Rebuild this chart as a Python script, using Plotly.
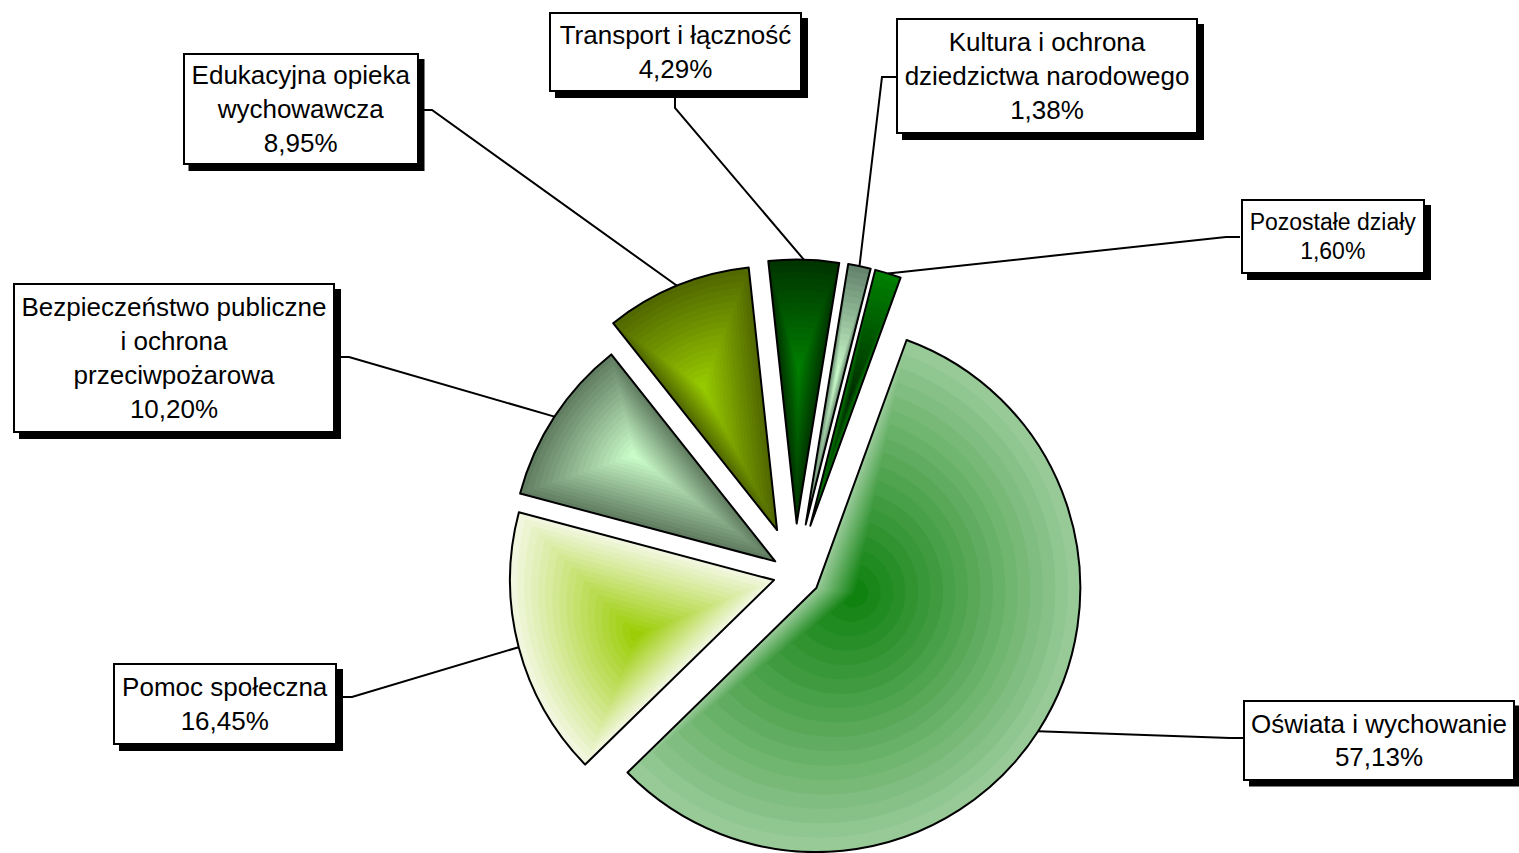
import math
import plotly.graph_objects as go

# ---------------- data ----------------
categories = [
    "Oświata i wychowanie",
    "Pomoc społeczna",
    "Bezpieczeństwo publiczne i ochrona przeciwpożarowa",
    "Edukacyjna opieka wychowawcza",
    "Transport i łączność",
    "Kultura i ochrona dziedzictwa narodowego",
    "Pozostałe działy",
]
values = [57.13, 16.45, 10.20, 8.95, 4.29, 1.38, 1.60]
label_names = [
    "Oświata i wychowanie",
    "Pomoc społeczna",
    "Bezpieczeństwo publiczne<br>i ochrona<br>przeciwpożarowa",
    "Edukacyjna opieka<br>wychowawcza",
    "Transport i łączność",
    "Kultura i ochrona<br>dziedzictwa narodowego",
    "Pozostałe działy",
]

# ---------------- style / layout ----------------
W, H = 1519, 853
# gradient: colour at the slice's gradient centre, colour at its border
center_colors = ["#0c800c", "#99cc00", "#ccffcc", "#99cc00", "#008000", "#ccffcc", "#002c00"]
edge_colors = ["#9ccc9c", "#f4f8e4", "#5f7a5f", "#506600", "#003300", "#62806a", "#008000"]
# gradient centre inside each slice: (fraction of the slice's angle, fraction of radius)
grad_center = [(0.376, 0.15), (0.38, 0.56), (0.6, 0.67), (0.34, 0.61),
               (0.44, 0.58), (0.5, 0.57), (0.5, 0.5)]
N_LAYERS = 18
explode_px = [25, 22, 24, 48, 51, 51, 51]
CX, CY = 795.3, 574.5
R = 264
ROT = 20
FONT = "Liberation Sans, Arial, sans-serif"
font_sizes = [26, 26, 26, 26, 26, 26, 23]
SHADOW = 6

# label boxes: centre x, centre y, width, height (px)
label_boxes = [
    (1379, 740, 272, 81),
    (225, 704, 224, 82),
    (174, 358, 322, 150),
    (300.5, 109, 236, 112),
    (675.5, 52, 253, 80),
    (1047, 76, 302, 116),
    (1333, 236.5, 184, 75),
]
# leader line: point on box edge, end of short stub
leader_attach = [
    ((1243, 738), (1230, 738)),
    ((337, 697), (352, 697)),
    ((335, 357), (349, 357)),
    ((418, 110), (432, 110)),
    ((675, 92), (675, 108)),
    ((896, 77), (882, 77)),
    ((1240, 237), (1226, 237)),
]


def hex2rgb(h):
    h = h.lstrip("#")
    return tuple(int(h[i:i + 2], 16) for i in (0, 2, 4))


def mix(c0, c1, t):
    a, b = hex2rgb(c0), hex2rgb(c1)
    return "rgb(%d,%d,%d)" % tuple(round(a[i] + (b[i] - a[i]) * t) for i in range(3))


total = sum(values)
n = len(values)
starts, mids, spans = [], [], []
cum = 0.0
for v in values:
    starts.append(ROT + 360.0 * cum / total)
    spans.append(360.0 * v / total)
    mids.append(math.radians(ROT + 360.0 * (cum + v / 2) / total))
    cum += v

fig = go.Figure()
TRANSP = "rgba(0,0,0,0)"


def add_slice(k, ax, ay, rad, fill, line_col, line_w):
    x0 = max(0.0, (ax - rad) / W)
    x1 = min(1.0, (ax + rad) / W)
    y0 = max(0.0, 1 - (ay + rad) / H)
    y1 = min(1.0, 1 - (ay - rad) / H)
    fig.add_trace(go.Pie(
        values=values,
        labels=categories,
        sort=False,
        direction="clockwise",
        rotation=ROT,
        domain=dict(x=[x0, x1], y=[y0, y1]),
        marker=dict(
            colors=[fill if i == k else TRANSP for i in range(n)],
            line=dict(
                color=[line_col if i == k else TRANSP for i in range(n)],
                width=[line_w if i == k else 0 for i in range(n)],
            ),
        ),
        textinfo="none",
        hoverinfo="skip",
        showlegend=False,
    ))


for k in range(n):
    dx, dy = math.sin(mids[k]), -math.cos(mids[k])
    ax = CX + explode_px[k] * dx
    ay = CY + explode_px[k] * dy
    fa, fr = grad_center[k]
    ga = math.radians(starts[k] + fa * spans[k])
    gx = ax + fr * R * math.sin(ga)
    gy = ay - fr * R * math.cos(ga)
    for j in range(N_LAYERS):
        s = 1.0 - j / N_LAYERS
        t = 1.0 - (j + 0.5) / N_LAYERS  # 1 at border, 0 at centre
        col = mix(center_colors[k], edge_colors[k], t)
        add_slice(k, gx + s * (ax - gx), gy + s * (ay - gy), s * R, col, TRANSP, 0)
    # outline on top
    add_slice(k, ax, ay, R, TRANSP, "#000000", 2)

# leader lines
for k in range(n):
    dx, dy = math.sin(mids[k]), -math.cos(mids[k])
    ex = CX + (explode_px[k] + R) * dx
    ey = CY + (explode_px[k] + R) * dy
    (bx, by), (sx, sy) = leader_attach[k]
    fig.add_trace(go.Scatter(
        x=[bx, sx, ex], y=[by, sy, ey], mode="lines",
        line=dict(color="black", width=2),
        hoverinfo="skip", showlegend=False,
    ))

annotations = []
shapes = []
BW = 2
for k in range(n):
    cx, cy, bw, bh = label_boxes[k]
    pct = f"{values[k]:.2f}".replace(".", ",") + "%"
    text = f"{label_names[k]}<br>{pct}"
    shapes.append(dict(
        type="rect", xref="x", yref="y", layer="above",
        x0=cx - bw / 2 + SHADOW, x1=cx + bw / 2 + SHADOW,
        y0=cy - bh / 2 + SHADOW, y1=cy + bh / 2 + SHADOW,
        fillcolor="black", line=dict(width=0),
    ))
    annotations.append(dict(
        x=cx, y=cy, xref="x", yref="y", xanchor="center", yanchor="middle",
        text=text, showarrow=False, width=bw - 2 * BW, height=bh - 2 * BW,
        borderwidth=BW, borderpad=0, align="center",
        bgcolor="white", bordercolor="black",
        font=dict(family=FONT, size=font_sizes[k], color="black"),
    ))

fig.update_layout(
    width=W, height=H,
    margin=dict(l=0, r=0, t=0, b=0),
    paper_bgcolor="white", plot_bgcolor="white",
    xaxis=dict(range=[0, W], visible=False, fixedrange=True),
    yaxis=dict(range=[H, 0], visible=False, fixedrange=True),
    annotations=annotations,
    shapes=shapes,
    showlegend=False,
)

fig.write_html(
    "out.html",
    config={"displayModeBar": False},
    post_script="document.body.style.margin='0';document.body.style.overflow='hidden';",
)
